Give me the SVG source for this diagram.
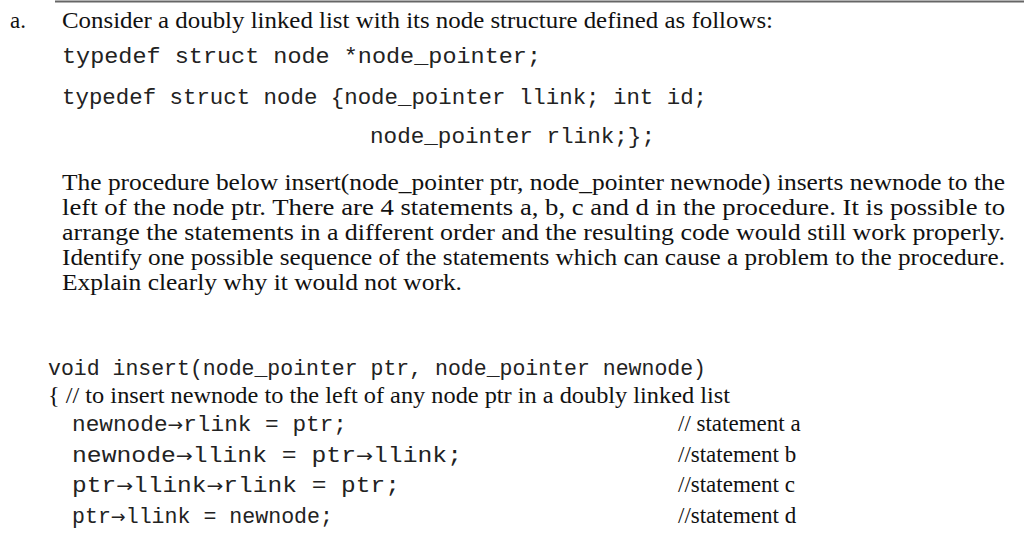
<svg xmlns="http://www.w3.org/2000/svg" width="1024" height="545" viewBox="0 0 1024 545">
<style>
.s{font-family:"Liberation Serif",serif;font-size:23px;fill:#111}
.m{font-family:"Liberation Mono",monospace;font-size:22px;fill:#222}
.a{font-family:"DejaVu Sans",sans-serif;font-size:18px}
</style>
<rect width="1024" height="545" fill="#fff"/>
<line x1="55" y1="1.5" x2="1024" y2="1.5" stroke="#666" stroke-width="2"/>
<text class="s" x="10" y="28">a.</text>
<text class="s" x="62" y="28" textLength="711" lengthAdjust="spacingAndGlyphs">Consider a doubly linked list with its node structure defined as follows:</text>
<text class="m" x="62" y="63" textLength="479" lengthAdjust="spacingAndGlyphs">typedef struct node *node_pointer;</text>
<text class="m" x="62" y="104" textLength="645" lengthAdjust="spacingAndGlyphs">typedef struct node {node_pointer llink; int id;</text>
<text class="m" x="370" y="143" textLength="285" lengthAdjust="spacingAndGlyphs">node_pointer rlink;};</text>
<text class="s" x="62" y="190" textLength="943" lengthAdjust="spacingAndGlyphs">The procedure below insert(node_pointer ptr, node_pointer newnode) inserts newnode to the</text>
<text class="s" x="62" y="215" textLength="943" lengthAdjust="spacingAndGlyphs">left of the node ptr. There are 4 statements a, b, c and d in the procedure. It is possible to</text>
<text class="s" x="62" y="240" textLength="943" lengthAdjust="spacingAndGlyphs">arrange the statements in a different order and the resulting code would still work properly.</text>
<text class="s" x="62" y="265" textLength="943" lengthAdjust="spacingAndGlyphs">Identify one possible sequence of the statements which can cause a problem to the procedure.</text>
<text class="s" x="62" y="290" textLength="400" lengthAdjust="spacingAndGlyphs">Explain clearly why it would not work.</text>
<text class="m" x="48" y="375" textLength="658" lengthAdjust="spacingAndGlyphs">void insert(node_pointer ptr, node_pointer newnode)</text>
<text class="s" x="48" y="403" textLength="682" lengthAdjust="spacingAndGlyphs">{  // to insert newnode to the left of any node ptr in a doubly linked list</text>
<text class="m" x="72" y="431" textLength="275" lengthAdjust="spacingAndGlyphs">newnode<tspan class="a">→</tspan>rlink = ptr;</text>
<text class="m" x="72" y="462" textLength="390" lengthAdjust="spacingAndGlyphs">newnode<tspan class="a">→</tspan>llink = ptr<tspan class="a">→</tspan>llink;</text>
<text class="m" x="72" y="492" textLength="328" lengthAdjust="spacingAndGlyphs">ptr<tspan class="a">→</tspan>llink<tspan class="a">→</tspan>rlink = ptr;</text>
<text class="m" x="72" y="523" textLength="261" lengthAdjust="spacingAndGlyphs">ptr<tspan class="a">→</tspan>llink = newnode;</text>
<text class="s" x="678" y="431">// statement a</text>
<text class="s" x="678" y="462">//statement b</text>
<text class="s" x="678" y="492">//statement c</text>
<text class="s" x="678" y="523">//statement d</text>
</svg>
